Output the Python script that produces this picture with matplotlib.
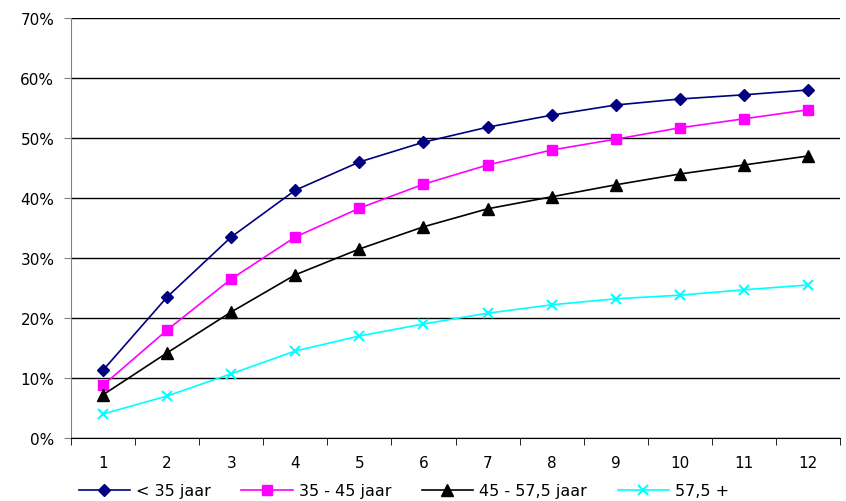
import matplotlib
matplotlib.use("Agg")
import matplotlib.pyplot as plt
from matplotlib.ticker import FixedLocator, FuncFormatter

categories = [1, 2, 3, 4, 5, 6, 7, 8, 9, 10, 11, 12]
under_35 = [11.3, 23.5, 33.5, 41.3, 46.0, 49.3, 51.8, 53.8, 55.5, 56.5, 57.2, 58.0]
age_35_45 = [8.8, 18.0, 26.5, 33.5, 38.3, 42.3, 45.5, 48.0, 49.8, 51.7, 53.2, 54.7]
age_45_575 = [7.2, 14.2, 21.0, 27.2, 31.5, 35.2, 38.2, 40.2, 42.2, 44.0, 45.5, 47.0]
over_575 = [4.0, 7.0, 10.7, 14.5, 17.0, 19.0, 20.8, 22.2, 23.2, 23.8, 24.7, 25.5]
series_labels = ["< 35 jaar", "35 - 45 jaar", "45 - 57,5 jaar", "57,5 +"]
y_ticks = [0, 10, 20, 30, 40, 50, 60, 70]

plt.rcParams["font.family"] = ["DejaVu Sans"]
fig = plt.figure(figsize=(8.46, 5.02), dpi=100)
ax = fig.add_axes([71 / 846, 63 / 502, 769 / 846, 420 / 502])

x = list(range(len(categories)))
styles = [
    dict(color="#000080", marker="D", markersize=6),
    dict(color="#ff00ff", marker="s", markersize=7),
    dict(color="#000000", marker="^", markersize=8),
    dict(color="#00ffff", marker="x", markersize=7.5, markeredgewidth=1.5),
]
for vals, lab, st in zip([under_35, age_35_45, age_45_575, over_575], series_labels, styles):
    ax.plot(x, vals, linewidth=1.2, label=lab, **st)

ax.set_xlim(-0.5, len(categories) - 0.5)
ax.set_ylim(0, 70)
ax.set_yticks(y_ticks)
ax.yaxis.set_major_formatter(FuncFormatter(lambda v, p: f"{int(v)}%"))
ax.yaxis.grid(True, color="black", linewidth=1)
ax.set_axisbelow(True)

# category labels centred, tick marks on the category boundaries
ax.set_xticks(x)
ax.set_xticklabels([str(c) for c in categories])
ax.tick_params(axis="x", which="major", length=0, pad=12)
ax.xaxis.set_minor_locator(FixedLocator([i - 0.5 for i in range(len(categories) + 1)]))
ax.tick_params(axis="x", which="minor", length=5, direction="out", color="black")
ax.tick_params(axis="y", length=5, direction="out", color="#808080", pad=7)
ax.tick_params(labelsize=11)

for s in ["top", "right"]:
    ax.spines[s].set_visible(False)
ax.spines["left"].set_color("#808080")
ax.spines["bottom"].set_color("black")

ax.legend(loc="upper center", bbox_to_anchor=(0.433, -0.108), ncol=4, frameon=False,
          fontsize=11.5, handlelength=3.2, handletextpad=0.4, columnspacing=1.9,
          borderaxespad=0, borderpad=0)

fig.savefig("out.png", dpi=100)
